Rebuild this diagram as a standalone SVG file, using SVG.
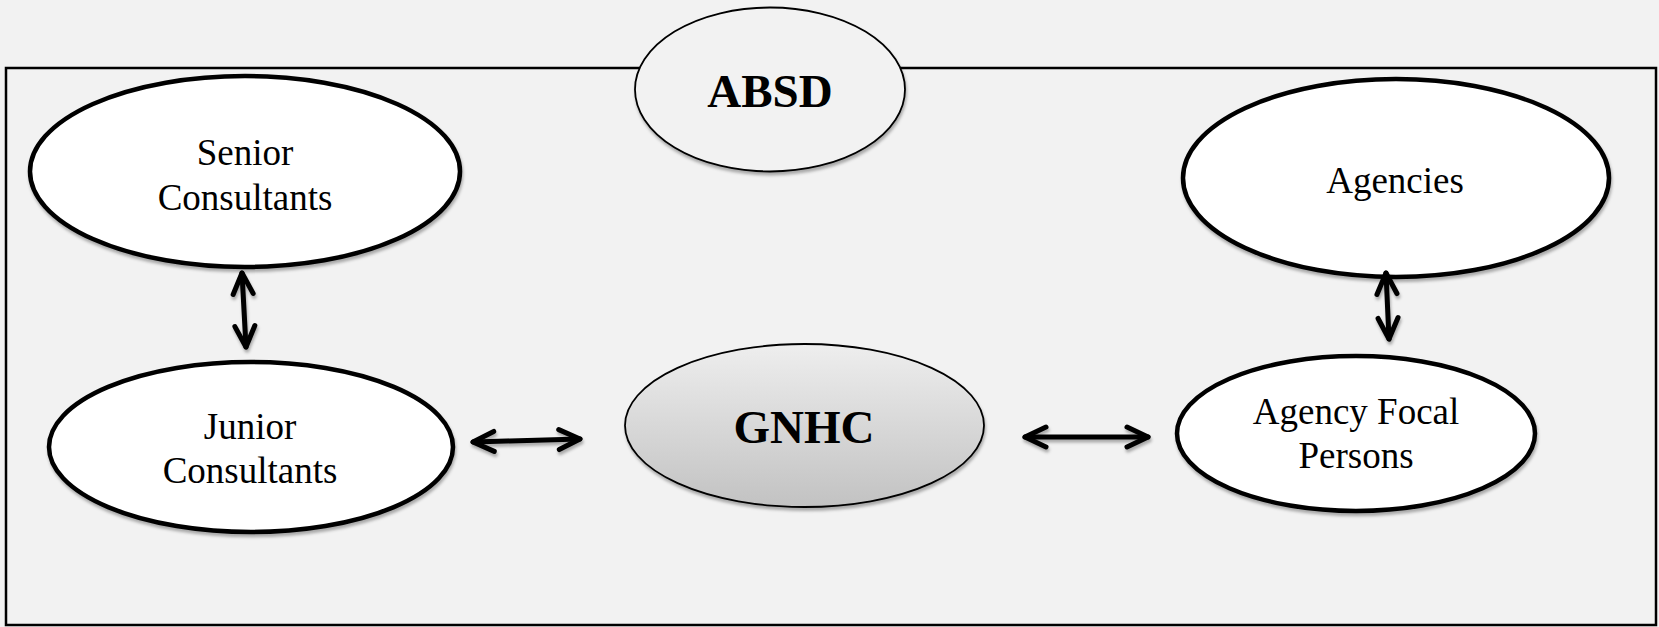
<svg xmlns="http://www.w3.org/2000/svg" width="1659" height="627" viewBox="0 0 1659 627">
<style>
.thick{fill:#fff;stroke:#000;stroke-width:4.5}
.thin{stroke:#000;stroke-width:1.8}
.lbl{font-family:"Liberation Serif","Times New Roman",serif;font-size:37px;fill:#000;text-anchor:middle}
.bold{font-family:"Liberation Serif","Times New Roman",serif;font-size:47px;font-weight:bold;fill:#000;text-anchor:middle}
.conn{fill:none;stroke:#000;stroke-width:5;stroke-linecap:round;stroke-linejoin:round}
</style>
<defs>
<linearGradient id="gray" x1="0" y1="0" x2="0" y2="1">
<stop offset="0" stop-color="#eeeeee"/>
<stop offset="1" stop-color="#c2c2c2"/>
</linearGradient>
<filter id="sh" x="-10%" y="-10%" width="120%" height="130%">
<feDropShadow dx="1" dy="3" stdDeviation="1.5" flood-color="#000" flood-opacity="0.3"/>
</filter>
<marker id="ah" markerUnits="userSpaceOnUse" markerWidth="30" markerHeight="30" viewBox="-25 -15 30 30" refX="0" refY="0" orient="auto-start-reverse" overflow="visible">
<path d="M -21 -10 L 0 0 L -21 10" fill="none" stroke="#000" stroke-width="5" stroke-linecap="round" stroke-linejoin="round"/>
</marker>
</defs>
<rect x="0" y="0" width="1659" height="627" fill="#f2f2f2"/>
<rect id="frame" x="6" y="68" width="1650" height="557" fill="#f2f2f2" stroke="#000" stroke-width="2.5"/>

<g id="absd">
<ellipse cx="770" cy="89.5" rx="135" ry="82" fill="#f2f2f2" class="thin" filter="url(#sh)"/>
<text x="770" y="107" class="bold">ABSD</text>
</g>
<g id="senior">
<ellipse cx="245" cy="171.5" rx="215" ry="95.5" class="thick" filter="url(#sh)"/>
<text x="245" y="165" class="lbl">Senior</text>
<text x="245" y="210" class="lbl">Consultants</text>
</g>
<g id="junior">
<ellipse cx="251" cy="447" rx="202" ry="85" class="thick" filter="url(#sh)"/>
<text x="250" y="439" class="lbl">Junior</text>
<text x="250" y="483" class="lbl">Consultants</text>
</g>
<g id="gnhc">
<ellipse cx="804.5" cy="425.5" rx="179.5" ry="81.5" fill="url(#gray)" class="thin" filter="url(#sh)"/>
<text x="804" y="443" class="bold">GNHC</text>
</g>
<g id="agencies">
<ellipse cx="1396" cy="178" rx="213" ry="99" class="thick" filter="url(#sh)"/>
<text x="1395" y="193" class="lbl">Agencies</text>
</g>
<g id="focal">
<ellipse cx="1356" cy="433.5" rx="179" ry="77.5" class="thick" filter="url(#sh)"/>
<text x="1356" y="424" class="lbl">Agency Focal</text>
<text x="1356" y="468" class="lbl">Persons</text>
</g>
<g id="connectors" filter="url(#sh)">
<path class="conn" d="M 242 273 L 246 347" marker-start="url(#ah)" marker-end="url(#ah)"/>
<path class="conn" d="M 473 442 L 580 439" marker-start="url(#ah)" marker-end="url(#ah)"/>
<path class="conn" d="M 1025 437 L 1148 437" marker-start="url(#ah)" marker-end="url(#ah)"/>
<path class="conn" d="M 1386 273 L 1389 339" marker-start="url(#ah)" marker-end="url(#ah)"/>
</g>
</svg>
